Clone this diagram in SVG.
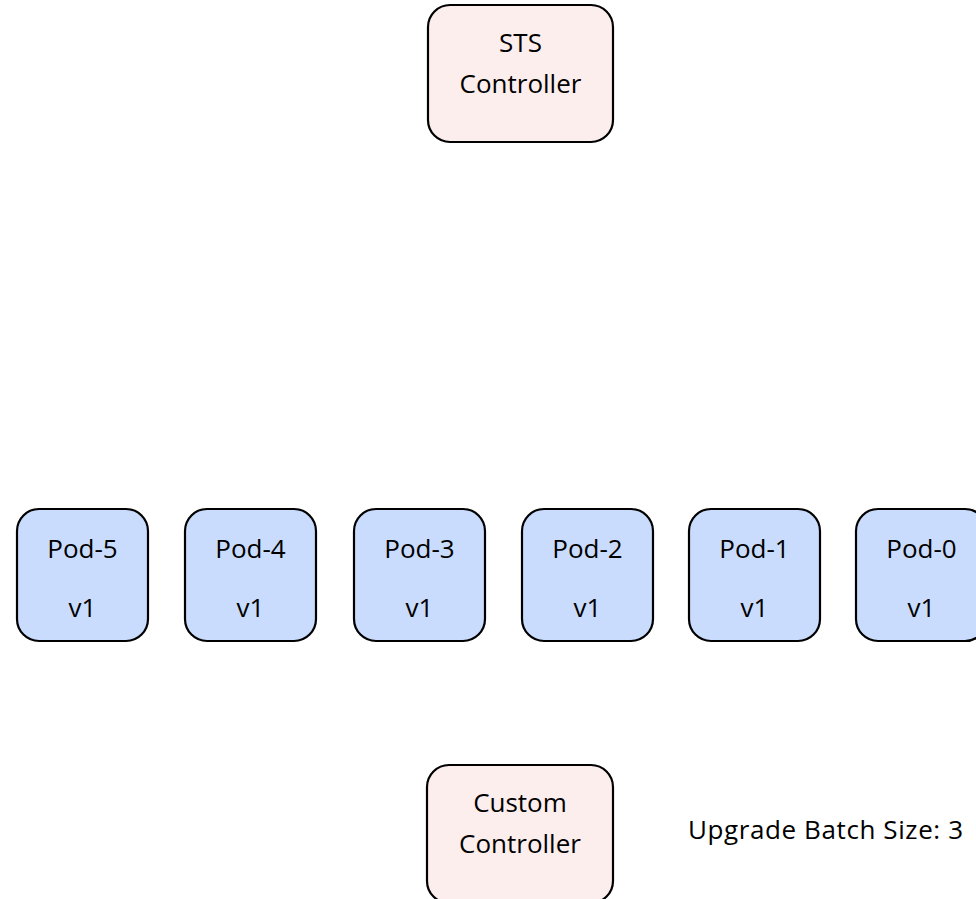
<svg xmlns="http://www.w3.org/2000/svg" width="976" height="899" viewBox="0 0 976 899">
<style>
.ctrl{fill:#FDEEEE;stroke:#000;stroke-width:2.2}
.pod{fill:#C9DCFD;stroke:#000;stroke-width:2.2}
text{font-family:"Open Sans","Liberation Sans",Arial,sans-serif;font-size:26px;fill:#000;text-anchor:middle}
</style>
<rect width="976" height="899" fill="#fff"/>
<g id="sts-controller">
<rect class="ctrl" x="428" y="5" width="185" height="137" rx="22"/>
<text x="520.5" y="52">STS</text>
<text x="520.5" y="93">Controller</text>
</g>
<g id="pod-5"><rect class="pod" x="17" y="509" width="131" height="132" rx="22"/><text x="82.5" y="558">Pod-5</text><text x="82.5" y="617">v1</text></g>
<g id="pod-4"><rect class="pod" x="185" y="509" width="131" height="132" rx="22"/><text x="250.5" y="558">Pod-4</text><text x="250.5" y="617">v1</text></g>
<g id="pod-3"><rect class="pod" x="354" y="509" width="131" height="132" rx="22"/><text x="419.5" y="558">Pod-3</text><text x="419.5" y="617">v1</text></g>
<g id="pod-2"><rect class="pod" x="522" y="509" width="131" height="132" rx="22"/><text x="587.5" y="558">Pod-2</text><text x="587.5" y="617">v1</text></g>
<g id="pod-1"><rect class="pod" x="689" y="509" width="131" height="132" rx="22"/><text x="754.5" y="558">Pod-1</text><text x="754.5" y="617">v1</text></g>
<g id="pod-0"><rect class="pod" x="856" y="509" width="131" height="132" rx="22"/><text x="921.5" y="558">Pod-0</text><text x="921.5" y="617">v1</text></g>
<g id="custom-controller">
<rect class="ctrl" x="427" y="765" width="186" height="138" rx="22"/>
<text x="520" y="812">Custom</text>
<text x="520" y="853">Controller</text>
</g>
<g id="connectors"></g>
<g id="batch-label"><text x="688" y="839" style="text-anchor:start" textLength="275" lengthAdjust="spacing">Upgrade Batch Size: 3</text></g>
</svg>
